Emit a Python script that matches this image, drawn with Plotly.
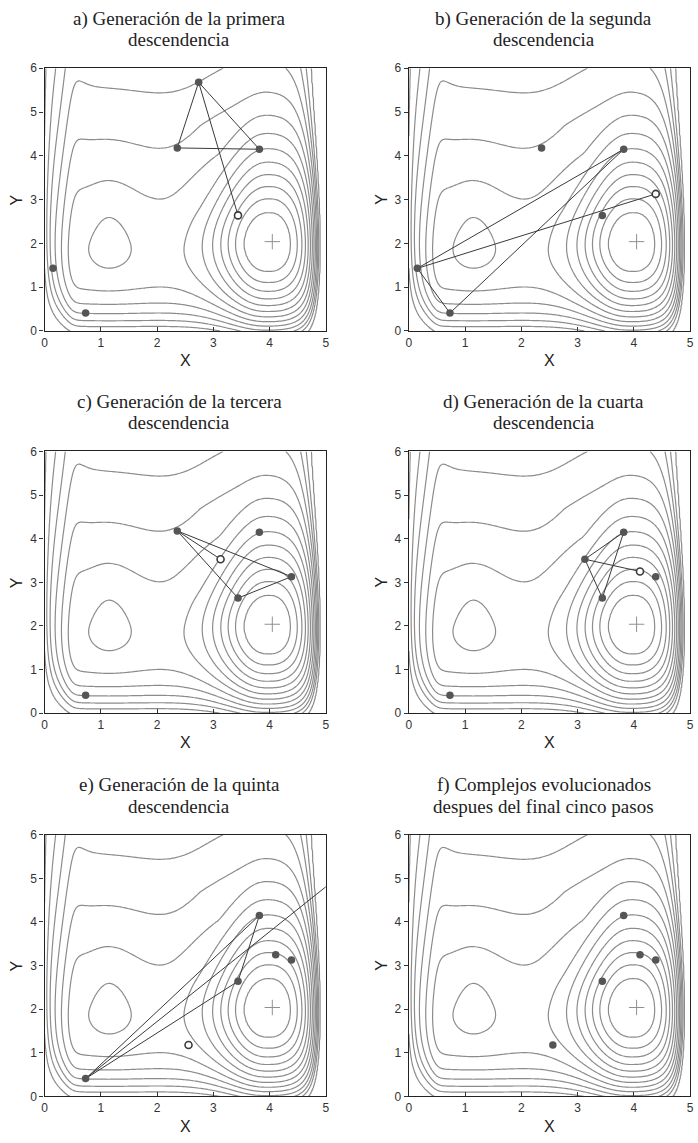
import numpy as np
import plotly.graph_objects as go

# ---------------------------------------------------------------------------
# Points of the complex (x, y), in the order they appear in the evolution
# P1..P5 initial complex, P6..P10 offspring
pts_x = [0.15, 0.73, 2.36, 2.74, 3.82, 3.44, 4.39, 3.13, 4.11, 2.56]
pts_y = [1.43, 0.41, 4.18, 5.68, 4.15, 2.64, 3.13, 3.53, 3.25, 1.18]

# global optimum marker
opt_x = [4.05]
opt_y = [2.04]

panel_titles = [
    ("a) Generación de la primera", "descendencia"),
    ("b) Generación de la segunda", "descendencia"),
    ("c) Generación de la tercera", "descendencia"),
    ("d) Generación de la cuarta", "descendencia"),
    ("e) Generación de la quinta", "descendencia"),
    ("f) Complejos evolucionados", "despues del final cinco pasos"),
]

# members of the complex drawn as filled dots (0-based point indices)
members = [
    [0, 1, 2, 3, 4],
    [0, 1, 2, 4, 5],
    [1, 2, 4, 5, 6],
    [1, 4, 5, 6, 7],
    [1, 4, 5, 6, 8],
    [4, 5, 6, 8, 9],
]
# simplex vertices, worst vertex, new offspring (None where absent)
simplex = [[2, 3, 4], [0, 1, 4], [2, 5, 6], [4, 5, 7], [1, 4, 5], None]
worst = [3, 0, 2, 7, 1, None]
offspring = [5, 6, 7, 8, 9, None]
# in panel e the reflected trial point falls outside the domain
trial_outside = [False, False, False, False, True, False]

# contour levels of the response surface
contour_levels = [-1.34, -0.34, 0.66, 1.66, 2.66, 3.66, 4.66, 5.66, 6.66,
                  7.66, 8.66, 9.66, 11.2]

tick_x = [0, 1, 2, 3, 4, 5]
tick_y = [0, 1, 2, 3, 4, 5, 6]


# ---------------------------------------------------------------------------
def softplus(v):
    return np.logaddexp(0.0, v)


EPS = 0.75


def soft_abs(v):
    return np.sqrt(v * v + EPS * EPS) - EPS


def soft_abs_inv(s):
    return np.sqrt((s + EPS) ** 2 - EPS * EPS)


def response(X, Y):
    # upward trend, weaker close to the left boundary
    trend = 4.2 * np.log1p(Y) * (1.0 - 0.5 * np.exp(-X / 0.22))
    wall_b = 10.7 * np.exp(-Y / 0.8)
    wall_r = 18.8 * np.exp(-(5.0 - X) / 0.16)
    wall_l = 0.48 * softplus((0.5 - X) / 0.05) + 2.9 * np.exp(-X / 0.09)

    # main (global) basin
    dx = X - 4.05
    dy = Y - 2.05
    v = np.where(dy > 0, dy / 1.02, -dy / 0.9)
    # left half: rounded-diamond norm, rounder far up
    ul = (np.abs(np.minimum(dx, 0.0)) / 0.583) ** 1.4
    su, sv = soft_abs(ul), soft_abs(v)
    l1 = su + sv
    m = np.where(dy > 0, 1.0 + 0.5 * np.clip((l1 - 2.7) / 1.6, 0.0, 1.0), 1.05)
    nrm = (su ** m + sv ** m) ** (1.0 / m)
    q_left = soft_abs_inv(nrm) ** 2
    # right half: plain ellipse
    q_right = (np.maximum(dx, 0.0) / 0.5) ** 2 + v ** 2
    q2 = np.where(dx < 0, q_left, q_right)
    g2 = 8.0 * np.exp(-(np.sqrt(4.0 + q2) - 2.0))

    # secondary (local) basin
    dx1 = X - 1.15
    dy1 = Y - 2.0
    sx1 = np.where(dx1 < 0, 0.46, 0.53)
    sy1 = np.where(dy1 > 0, 1.72, 0.85)
    q1 = (dx1 / sx1) ** 2 + (dy1 / sy1) ** 2
    g1 = 1.3 * np.exp(-(np.sqrt(0.09 + q1) - 0.3))

    return trend + wall_b + wall_r + wall_l - g1 - g2


t = np.linspace(0.0, 1.0, 211)
gx = 5.0 * (0.5 - 0.5 * np.cos(np.pi * t))
gy = 6.0 * (1.0 - np.cos(np.pi * t / 2.0))
GX, GY = np.meshgrid(gx, gy)
F = response(GX, GY)
# monotone remap so that the chosen levels become integers 1..n
ext = np.concatenate([[F.min() - 1.0], contour_levels, [F.max() + 1.0]])
Z = np.round(np.interp(F, ext, np.arange(len(ext))), 4)

# ---------------------------------------------------------------------------
W, H = 698, 1143
col_px = [(42, 326), (410, 694)]
row_px = [(62, 328), (450, 715), (838, 1103)]

LINE = "#3a3a3a"
DOT = "#555555"
CONT = "#8c8c8c"

fig = go.Figure()
annotations = []

for p in range(6):
    r, c = divmod(p, 2)
    x0, x1 = col_px[c]
    y0, y1 = row_px[r]
    xa = "x" if p == 0 else f"x{p + 1}"
    ya = "y" if p == 0 else f"y{p + 1}"
    xkey = "xaxis" if p == 0 else f"xaxis{p + 1}"
    ykey = "yaxis" if p == 0 else f"yaxis{p + 1}"

    fig.add_trace(go.Contour(
        x=np.round(gx, 4), y=np.round(gy, 4), z=Z, xaxis=xa, yaxis=ya,
        contours=dict(start=1, end=len(contour_levels), size=1, coloring="none"),
        line=dict(color=CONT, width=1.2, smoothing=1.0),
        showscale=False, hoverinfo="skip",
    ))

    if simplex[p] is not None:
        sv_ = simplex[p] + [simplex[p][0]]
        fig.add_trace(go.Scatter(
            x=[pts_x[i] for i in sv_], y=[pts_y[i] for i in sv_],
            xaxis=xa, yaxis=ya, mode="lines",
            line=dict(color=LINE, width=1), hoverinfo="skip"))
        w = worst[p]
        if trial_outside[p]:
            others = [i for i in simplex[p] if i != w]
            cx = np.mean([pts_x[i] for i in others])
            cy = np.mean([pts_y[i] for i in others])
            tx, ty = 2 * cx - pts_x[w], 2 * cy - pts_y[w]
        else:
            tx, ty = pts_x[offspring[p]], pts_y[offspring[p]]
        fig.add_trace(go.Scatter(
            x=[pts_x[w], tx], y=[pts_y[w], ty], xaxis=xa, yaxis=ya,
            mode="lines", line=dict(color=LINE, width=1), hoverinfo="skip"))

    fig.add_trace(go.Scatter(
        x=[pts_x[i] for i in members[p]], y=[pts_y[i] for i in members[p]],
        xaxis=xa, yaxis=ya, mode="markers",
        marker=dict(color=DOT, size=7.5, line=dict(width=0)), hoverinfo="skip"))

    if offspring[p] is not None:
        fig.add_trace(go.Scatter(
            x=[pts_x[offspring[p]]], y=[pts_y[offspring[p]]],
            xaxis=xa, yaxis=ya, mode="markers",
            marker=dict(color="white", size=7, line=dict(color=LINE, width=1.6)),
            hoverinfo="skip"))

    fig.add_trace(go.Scatter(
        x=opt_x, y=opt_y, xaxis=xa, yaxis=ya, mode="markers",
        marker=dict(symbol="cross-thin", size=11, line=dict(color="#909090", width=1)),
        hoverinfo="skip"))

    axis_common = dict(
        showgrid=False, zeroline=False, showline=True, mirror=True,
        linecolor="#222222", linewidth=1.4,
        tickfont=dict(family="Liberation Sans, Arial, sans-serif", size=12, color="#333333"),
        ticklen=4, tickwidth=1, tickcolor="#333333",
    )
    fig.layout[xkey] = dict(
        axis_common, domain=[x0 / W, x1 / W], range=[0, 5], tickvals=tick_x,
        ticks="inside", anchor=ya, fixedrange=True)
    fig.layout[ykey] = dict(
        axis_common, domain=[1 - y1 / H, 1 - y0 / H], range=[0, 6], tickvals=tick_y,
        ticks="outside", anchor=xa, fixedrange=True)

    xc = ((x0 + x1) / 2 - 6) / W
    l1_, l2_ = panel_titles[p]
    tfont = dict(family="Liberation Serif, Times New Roman, serif", size=19, color="#222222")
    annotations.append(dict(x=xc, y=1 - (y0 - 50) / H, xref="paper", yref="paper",
                            text=l1_, showarrow=False, font=tfont,
                            xanchor="center", yanchor="middle"))
    annotations.append(dict(x=xc, y=1 - (y0 - 29) / H, xref="paper", yref="paper",
                            text=l2_, showarrow=False, font=tfont,
                            xanchor="center", yanchor="middle"))
    lfont = dict(family="Liberation Sans, Arial, sans-serif", size=16, color="#222222")
    annotations.append(dict(x=(x0 + x1) / 2 / W, y=1 - (y1 + 30) / H,
                            xref="paper", yref="paper",
                            text="X", showarrow=False, font=lfont,
                            xanchor="center", yanchor="middle"))
    annotations.append(dict(x=(x0 - 28) / W, y=1 - (y0 + y1) / 2 / H,
                            xref="paper", yref="paper", text="Y", textangle=-90,
                            showarrow=False, font=lfont,
                            xanchor="center", yanchor="middle"))

fig.update_layout(
    width=W, height=H, margin=dict(l=0, r=0, t=0, b=0),
    paper_bgcolor="white", plot_bgcolor="white",
    showlegend=False, annotations=annotations,
)

fig.write_html("out.html")
